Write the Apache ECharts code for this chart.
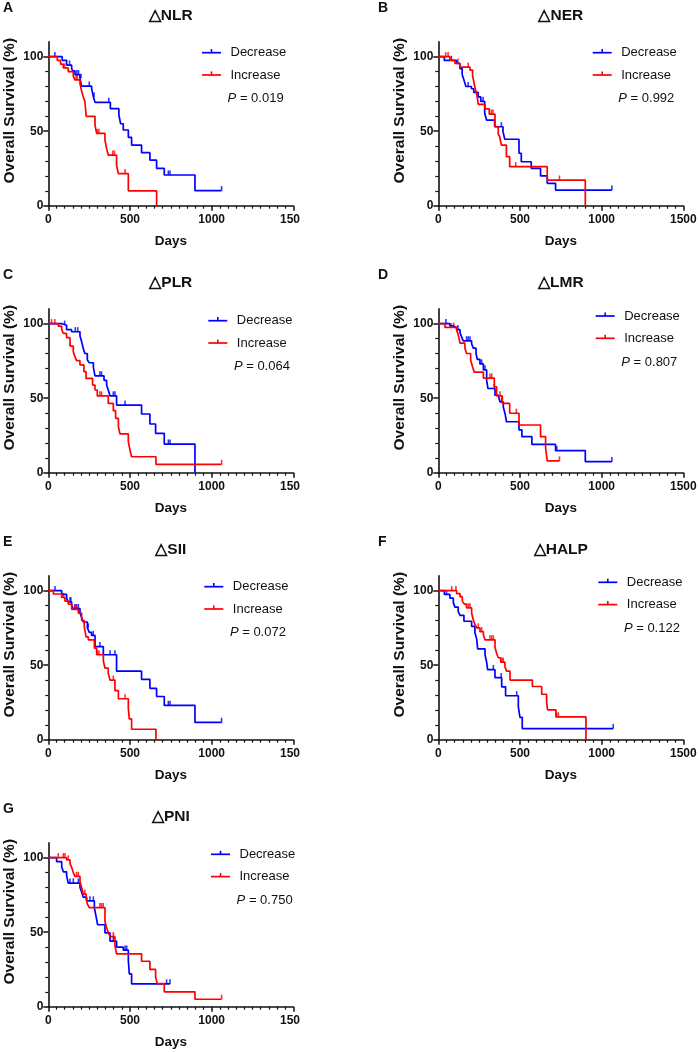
<!DOCTYPE html>
<html>
<head>
<meta charset="utf-8">
<title>Overall survival by change in inflammatory markers</title>
<script src="https://cdn.jsdelivr.net/npm/echarts@6/dist/echarts.min.js"></script>
<style>
    html, body { margin: 0; padding: 0; background: #fff; }
    body { width: 699px; height: 1052px; position: relative; overflow: hidden; }
    .panel { position: absolute; height: 267px; }
</style>
</head>
<body>
<div id="pA" class="panel"></div>
<div id="pB" class="panel"></div>
<div id="pC" class="panel"></div>
<div id="pD" class="panel"></div>
<div id="pE" class="panel"></div>
<div id="pF" class="panel"></div>
<div id="pG" class="panel"></div>
<script>
// ---------- data: [days, survival % after the step] ----------
// censored patients: [days, survival % at that time]

// △NLR
const nlrDec = [[0,100],[85,97.6],[112,94.4],[143,92],[150,90.5],[163,88],[194,85.5],[204,80.3],[265,78.7],[276,73],[286,69.4],[380,65.1],[432,60.9],[443,55],[459,50.8],[490,45.9],[510,40.7],[571,35.6],[622,30.6],[663,25],[710,20.6],[898,10.1],[1061,10.1]];
const nlrDecCens = [[40,100],[130,94.4],[175,88],[185,88],[200,85.5],[251,80.3],[280,73],[370,69.4],[735,20.6],[745,20.6],[1061,10.1]];
const nlrInc = [[0,100],[55,97.5],[75,95],[92,92.5],[122,90],[153,87],[163,84.5],[194,82],[204,77],[214,73],[224,70],[232,60],[286,54],[296,48.5],[347,44],[357,38.5],[367,34],[418,27],[429,21.5],[490,10],[663,0]];
const nlrIncCens = [[100,92.5],[170,84.5],[178,84.5],[300,48.5],[310,48.5],[395,34],[405,34],[470,21.5]];

// △NER
const nerDec = [[0,100],[37,97.5],[112,95.5],[132,92],[146,88],[158,84],[169,80],[203,78.5],[217,76],[244,73],[260,70],[284,62],[295,57.5],[345,53],[396,49.7],[407,44.6],[494,35.2],[508,29.5],[569,25],[626,20],[667,15],[718,10.5],[1063,10.5]];
const nerDecCens = [[80,97.5],[183,80],[274,70],[386,53],[1063,10.5]];
const nerInc = [[0,100],[71,97.5],[102,95.5],[132,93],[194,91],[210,87],[218,83],[225,79],[235,75],[245,68],[286,65],[312,61.5],[347,53],[367,48],[376,46.3],[386,40.7],[417,32.9],[437,26.2],[667,17.2],[900,0]];
const nerIncCens = [[45,100],[60,100],[120,95.5],[183,93],[325,61.5],[335,61.5],[474,26.2],[742,17.2]];

// △PLR
const plrDec = [[0,100],[85,99],[112,96],[143,94.6],[194,91.7],[204,88],[214,83.4],[224,80],[239,75.6],[251,73.8],[276,70.7],[286,65],[341,62],[357,58.8],[367,55.5],[378,51.5],[418,45.4],[571,39.4],[622,32.7],[657,26.4],[710,19.2],[898,0]];
const plrDecCens = [[100,99],[165,94.6],[180,94.6],[316,65],[326,65],[398,51.5],[408,51.5],[470,45.4],[735,19.2],[745,19.2]];
const plrInc = [[0,100],[61,98.4],[82,96],[92,93.5],[112,90.6],[133,85],[153,81.2],[163,77.9],[173,75.2],[194,72.3],[218,67.8],[231,63.3],[271,58.8],[286,55.5],[300,51.5],[367,46.5],[398,41.6],[412,36.5],[429,30.9],[439,26],[490,20.8],[500,15.2],[510,10.7],[659,5.6],[1061,5.6]];
const plrIncCens = [[20,100],[40,100],[316,51.5],[326,51.5],[1061,5.6]];

// △LMR
const lmrDec = [[0,100],[71,98.5],[92,97.5],[112,96],[133,94],[143,91],[153,88.5],[204,86.5],[214,83.6],[231,80],[239,76],[255,73],[276,69],[296,62],[304,56.5],[347,52],[367,51],[378,47.5],[398,44],[410,39],[417,34.2],[494,28.7],[512,24.2],[573,19],[718,14.8],[900,7.4],[1063,7.4]];
const lmrDecCens = [[47,100],[120,96],[173,88.5],[183,88.5],[194,88.5],[265,73],[286,69],[343,56.5],[388,47.5],[725,14.8],[1063,7.4]];
const lmrInc = [[0,100],[41,97.5],[112,96],[122,92.5],[133,87],[163,83.5],[173,80],[198,75.5],[210,71],[220,67.5],[276,63.5],[343,57.7],[357,51.5],[392,46.5],[437,39.9],[494,32],[626,24.2],[657,16.4],[667,7.9],[742,7.9]];
const lmrIncCens = [[80,97.5],[95,97.5],[316,63.5],[327,63.5],[378,51.5],[478,39.9],[742,7.9]];

// △SII
const siiDec = [[0,100],[82,97.5],[112,95],[122,92.5],[143,90],[153,88],[194,85],[204,82],[214,79],[239,75],[251,72],[265,70],[286,62.5],[337,57],[418,46],[571,40.5],[622,34.5],[663,29],[710,23],[898,11.6],[1061,11.6]];
const siiDecCens = [[41,100],[133,92.5],[138,92.5],[163,88],[173,88],[184,88],[245,75],[275,70],[316,62.5],[378,57],[408,57],[735,23],[745,23],[1061,11.6]];
const siiInc = [[0,100],[31,97.8],[82,95.5],[102,93],[122,91],[143,87.5],[184,85],[204,80],[220,76],[231,69],[245,67],[282,61.4],[296,57],[337,53],[347,48],[367,44.5],[378,40],[408,33],[429,27.5],[490,21],[496,14],[510,7],[659,0]];
const siiIncCens = [[92,95.5],[163,87.5],[173,87.5],[300,57],[310,57],[398,40],[470,27.5]];

// △HALP
const halpDec = [[0,100],[37,97.5],[71,95],[92,92],[102,89],[122,86],[133,83.5],[157,79.5],[204,76],[224,72],[235,67.5],[241,61],[286,57],[296,52],[302,47],[347,41.6],[388,35.5],[412,29.5],[490,22],[500,15],[514,7.5],[1071,7.5]];
const halpDecCens = [[50,97.5],[337,47],[385,41.6],[480,29.5],[1071,7.5]];
const halpInc = [[0,100],[112,98],[133,96],[147,93],[159,91],[173,88.5],[204,85],[214,80.5],[224,77.5],[235,75],[255,72.5],[276,70.5],[286,67],[347,62],[357,58],[367,55],[382,52],[408,49],[418,46],[439,40],[576,35.7],[633,30.5],[663,25.5],[669,20],[720,15.3],[904,0]];
const halpIncCens = [[82,100],[108,100],[184,88.5],[194,88.5],[245,75],[265,72.5],[316,67],[327,67],[337,67],[390,52],[398,52],[724,15.3],[735,15.3]];

// △PNI
const pniDec = [[0,100],[51,97.3],[82,94],[92,90.5],[112,88],[122,83],[194,80],[204,77],[214,73.5],[235,71],[282,66.5],[290,62],[302,55],[347,49.5],[378,44],[418,40],[459,38],[490,31],[496,22],[510,15.3],[745,15.3]];
const pniDecCens = [[133,83],[153,83],[184,83],[255,71],[276,71],[398,44],[470,38],[480,38],[724,15.3],[745,15.3]];
const pniInc = [[0,100],[112,98.5],[133,96],[143,93.5],[153,90],[163,87.5],[194,84],[204,80],[214,75.5],[231,73],[239,69],[251,66.5],[347,57],[357,53],[367,50],[378,47],[408,41],[418,35.5],[571,30.5],[622,25],[657,20],[667,15.5],[710,10],[898,5],[1061,5]];
const pniIncCens = [[61,100],[92,100],[102,100],[122,98.5],[173,87.5],[184,87.5],[224,75.5],[316,66.5],[326,66.5],[336,66.5],[398,47],[1061,5]];

const groupNames = ['Decrease', 'Increase'];
const xTicks = [0, 500, 1000, 1500];
const yTicks = [0, 50, 100];

// ---------- style ----------
const FONT = '"Liberation Sans", Arial, sans-serif';
const INK = '#111';
const BLUE = '#0000ff';
const RED = '#ff0000';

// lx / ly: legend offset from grid left / from the 100 % line
const panels = [
    {id: 'pA', letter: 'A', title: '△NLR',  p: '0.019', dec: nlrDec,  decCens: nlrDecCens,  inc: nlrInc,  incCens: nlrIncCens,  col: 0, row: 0, lx: 153.7, ly: -4},
    {id: 'pB', letter: 'B', title: '△NER',  p: '0.992', dec: nerDec,  decCens: nerDecCens,  inc: nerInc,  incCens: nerIncCens,  col: 1, row: 0, lx: 154.4, ly: -4},
    {id: 'pC', letter: 'C', title: '△PLR',  p: '0.064', dec: plrDec,  decCens: plrDecCens,  inc: plrInc,  incCens: plrIncCens,  col: 0, row: 1, lx: 160,   ly: -3},
    {id: 'pD', letter: 'D', title: '△LMR',  p: '0.807', dec: lmrDec,  decCens: lmrDecCens,  inc: lmrInc,  incCens: lmrIncCens,  col: 1, row: 1, lx: 157.4, ly: -7.7},
    {id: 'pE', letter: 'E', title: '△SII',  p: '0.072', dec: siiDec,  decCens: siiDecCens,  inc: siiInc,  incCens: siiIncCens,  col: 0, row: 2, lx: 156,   ly: -4},
    {id: 'pF', letter: 'F', title: '△HALP', p: '0.122', dec: halpDec, decCens: halpDecCens, inc: halpInc, incCens: halpIncCens, col: 1, row: 2, lx: 160,   ly: -8.4},
    {id: 'pG', letter: 'G', title: '△PNI',  p: '0.750', dec: pniDec,  decCens: pniDecCens,  inc: pniInc,  incCens: pniIncCens,  col: 0, row: 3, lx: 162.7, ly: -3.4}
];

function curveSeries(name, pts, cens, color) {
    return [
        {
            name: name, type: 'line', step: 'end', data: pts,
            showSymbol: false, symbol: 'none',
            lineStyle: {color: color, width: 1.7},
            itemStyle: {color: color},
            emphasis: {disabled: true}, silent: true
        },
        {
            // censor tick marks
            type: 'scatter', data: cens,
            symbol: 'rect', symbolSize: [1.6, 4.6], symbolOffset: [0, '-50%'],
            itemStyle: {color: color},
            emphasis: {disabled: true}, silent: true
        }
    ];
}

function legendItem(x, y, color, label) {
    return {
        type: 'group', x: x, y: y, silent: true,
        children: [
            {type: 'line', shape: {x1: 0, y1: 0, x2: 19, y2: 0}, style: {stroke: color, lineWidth: 1.7}},
            {type: 'line', shape: {x1: 9.5, y1: 0, x2: 9.5, y2: -3.6}, style: {stroke: color, lineWidth: 1.6}},
            {type: 'text', x: 28.5, y: 0, style: {text: label, font: '13px ' + FONT, fill: INK, verticalAlign: 'middle'}}
        ]
    };
}

function makePanel(cfg) {
    const right = cfg.col === 1;
    const el = document.getElementById(cfg.id);
    el.style.left = (right ? 350 : 0) + 'px';
    el.style.top = (cfg.row * 267) + 'px';
    el.style.width = (right ? 349 : 300) + 'px';

    const gl = right ? 88.3 : 48.3;
    const gt = 41.8, gw = 245, gh = 163.9;
    const y100 = gt + gh * 10 / 110;
    const lx = gl + cfg.lx, ly = y100 + cfg.ly;

    const chart = echarts.init(el);
    chart.setOption({
        animation: false,
        title: [
            {text: cfg.letter, left: right ? 28 : 3, top: 1, padding: 0,
             textStyle: {fontFamily: FONT, fontWeight: 'bold', fontSize: 14, color: INK}},
            {text: cfg.title, left: gl + gw / 2, top: 8, padding: 0, textAlign: 'center',
             textStyle: {fontFamily: FONT, fontWeight: 'bold', fontSize: 15.5, color: INK}}
        ],
        grid: {left: gl, top: gt, width: gw, height: gh, containLabel: false, outerBoundsMode: 'none'},
        xAxis: {
            type: 'value', min: 0, max: 1500, interval: 500,
            name: 'Days', nameLocation: 'middle', nameGap: 29, nameMoveOverlap: false,
            nameTextStyle: {fontFamily: FONT, fontWeight: 'bold', fontSize: 13.5, color: INK},
            axisLine: {show: true, onZero: false, lineStyle: {color: INK, width: 1.6}},
            axisTick: {show: true, length: 5, lineStyle: {color: INK, width: 1.5}},
            minorTick: {show: true, splitNumber: 10, length: 3, lineStyle: {color: INK, width: 1.2}},
            axisLabel: {fontFamily: FONT, fontWeight: 'bold', fontSize: 12, color: INK, margin: 8,
                        customValues: xTicks, hideOverlap: false,
                        formatter: function (v) { return String(v); }},
            splitLine: {show: false}
        },
        yAxis: {
            type: 'value', min: 0, max: 110, interval: 50,
            name: 'Overall Survival (%)', nameLocation: 'middle', nameGap: 31, nameMoveOverlap: false,
            nameTextStyle: {fontFamily: FONT, fontWeight: 'bold', fontSize: 15.5, color: INK,
                            padding: [0, 0, 0, 26]},
            axisLine: {show: true, onZero: false, lineStyle: {color: INK, width: 1.6}},
            axisTick: {show: true, length: 5, lineStyle: {color: INK, width: 1.5}, customValues: yTicks},
            minorTick: {show: true, splitNumber: 5, length: 3, lineStyle: {color: INK, width: 1.2}},
            axisLabel: {fontFamily: FONT, fontWeight: 'bold', fontSize: 12, color: INK, margin: 5,
                        customValues: yTicks,
                        formatter: function (v) { return v > 100 ? '' : String(v); }},
            splitLine: {show: false}
        },
        graphic: [
            legendItem(lx, ly, BLUE, groupNames[0]),
            legendItem(lx, ly + 22.3, RED, groupNames[1]),
            {type: 'text', x: lx + 25.6, y: ly + 46, silent: true,
             style: {text: '{i|P} = ' + cfg.p, font: '13px ' + FONT, fill: INK, verticalAlign: 'middle',
                     rich: {i: {fontStyle: 'italic', fontFamily: FONT, fontSize: 13, fill: INK}}}}
        ],
        series: curveSeries(groupNames[0], cfg.dec, cfg.decCens, BLUE)
            .concat(curveSeries(groupNames[1], cfg.inc, cfg.incCens, RED))
    });
    return chart;
}

panels.forEach(makePanel);
</script>
</body>
</html>
